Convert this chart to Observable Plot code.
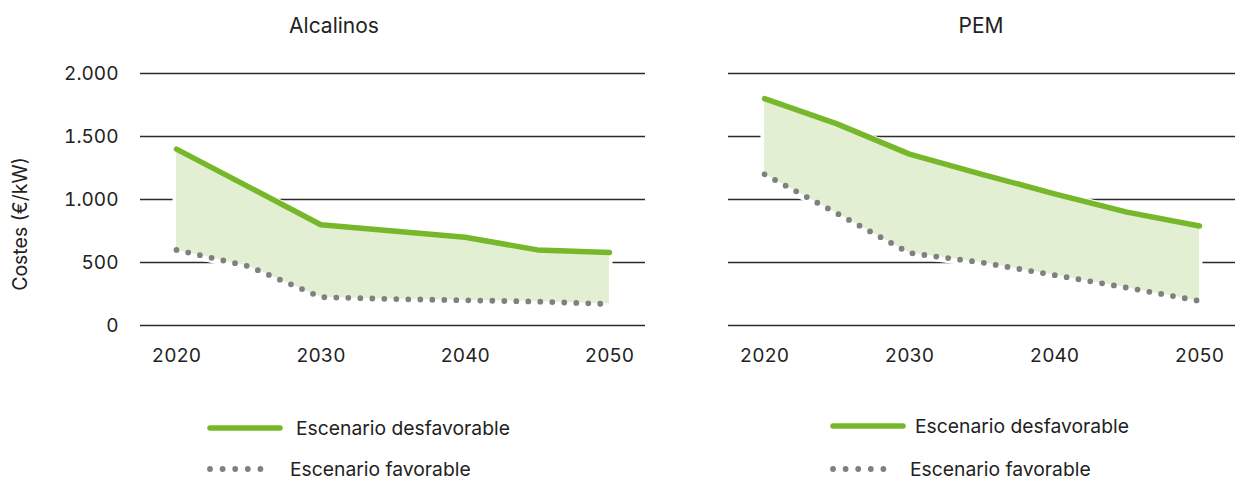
<!DOCTYPE html>
<html>
<head>
<meta charset="utf-8">
<script src="https://cdn.jsdelivr.net/npm/d3@7"></script>
<script src="https://cdn.jsdelivr.net/npm/@observablehq/plot@0.6"></script>
<style>
  html, body { margin: 0; padding: 0; background: #fff; }
  #root { position: relative; width: 1235px; height: 480px; overflow: hidden; font-family: Inter, "Noto Sans", sans-serif; color: #222; }
  .abs { position: absolute; white-space: nowrap; }
  .title { font-size: 21px; transform: translate(-50%, -50%); }
  .leg { font-size: 19.3px; transform: translateY(-50%); }
  .ylab { font-size: 19.5px; transform: translate(-50%, -50%) rotate(-90deg); }
</style>
</head>
<body>
<div id="root"></div>
<script>
// ---- data ----
const years = [2020, 2025, 2030, 2035, 2040, 2045, 2050];
const xTicks = [2020, 2030, 2040, 2050];
const yTicks = [0, 500, 1000, 1500, 2000];
const panelTitles = ["Alcalinos", "PEM"];
const seriesNames = ["Escenario desfavorable", "Escenario favorable"];
const yLabel = "Costes (€/kW)";
const alcalinosDesfavorable = [1400, 1100, 800, 750, 700, 600, 580];
const alcalinosFavorable    = [600, 470, 225, 210, 200, 190, 170];
const pemDesfavorable       = [1800, 1600, 1360, 1200, 1045, 900, 790];
const pemFavorable          = [1200, 890, 575, 500, 400, 300, 195];

const GREEN = "#76b82a";
const GREY = "#808080";
const FILL = "#e3efd2";
const FONT = 'Inter, "Noto Sans", sans-serif';

const root = document.getElementById("root");
const fmt = d => d3.format(",")(d).replace(/,/g, ".");

function panel(desf, fav, o) {
  const data = years.map((y, i) => ({year: y, desf: desf[i], fav: fav[i]}));
  const chart = Plot.plot({
    width: o.width, height: 380,
    marginLeft: o.marginLeft, marginRight: o.marginRight,
    marginTop: 73, marginBottom: 55,
    style: {fontFamily: FONT, fontSize: "19px", color: "#222", background: "transparent"},
    x: {domain: [2020, 2050], inset: 36, ticks: xTicks, tickFormat: d => String(d), tickSize: 0, tickPadding: 23, label: null},
    y: {domain: [0, 2000], ticks: yTicks, tickFormat: fmt, tickSize: 0, tickPadding: 22, label: null, axis: o.showY ? "left" : null},
    marks: [
      Plot.ruleY(yTicks, {stroke: "#2b2b2b", strokeWidth: 1.3}),
      Plot.areaY(data, {x: "year", y1: "fav", y2: "desf", fill: "white", stroke: "white", strokeWidth: 7}),
      Plot.lineY(data, {x: "year", y: "fav", stroke: "white", strokeWidth: 10}),
      Plot.areaY(data, {x: "year", y1: "fav", y2: "desf", fill: FILL}),
      Plot.lineY(data, {x: "year", y: "fav", stroke: GREY, strokeWidth: 5.8, strokeDasharray: "0,12", strokeLinecap: "round"}),
      Plot.lineY(data, {x: "year", y: "desf", stroke: GREEN, strokeWidth: 5.5, strokeLinecap: "round", strokeLinejoin: "round"})
    ]
  });
  chart.style.position = "absolute";
  chart.style.left = o.left + "px";
  chart.style.top = "0px";
  root.appendChild(chart);
}

panel(alcalinosDesfavorable, alcalinosFavorable, {left: 0, width: 660, marginLeft: 140, marginRight: 15, showY: true});
panel(pemDesfavorable, pemFavorable, {left: 700, width: 535, marginLeft: 28, marginRight: 0, showY: false});

function addText(txt, cls, x, y) {
  const d = document.createElement("div");
  d.className = "abs " + cls;
  d.textContent = txt;
  d.style.left = x + "px";
  d.style.top = y + "px";
  root.appendChild(d);
}
addText(panelTitles[0], "title", 334, 25);
addText(panelTitles[1], "title", 981, 25);
addText(yLabel, "ylab", 20, 224);

function legendSwatch(x, y, kind) {
  const ns = "http://www.w3.org/2000/svg";
  const s = document.createElementNS(ns, "svg");
  s.setAttribute("width", 90); s.setAttribute("height", 14);
  s.style.position = "absolute"; s.style.left = (x - 5) + "px"; s.style.top = (y - 7) + "px";
  const l = document.createElementNS(ns, "line");
  l.setAttribute("x1", 5); l.setAttribute("y1", 7); l.setAttribute("y2", 7);
  l.setAttribute("stroke-linecap", "round");
  if (kind === "solid") {
    l.setAttribute("x2", 75); l.setAttribute("stroke", GREEN); l.setAttribute("stroke-width", 5.5);
  } else {
    l.setAttribute("x2", 68); l.setAttribute("stroke", GREY); l.setAttribute("stroke-width", 5.8);
    l.setAttribute("stroke-dasharray", "0,12.6");
  }
  s.appendChild(l);
  root.appendChild(s);
}
legendSwatch(210, 428, "solid");
addText(seriesNames[0], "leg", 296, 428);
legendSwatch(210, 469, "dots");
addText(seriesNames[1], "leg", 290, 469);
legendSwatch(833, 426, "solid");
addText(seriesNames[0], "leg", 915, 426);
legendSwatch(833, 469, "dots");
addText(seriesNames[1], "leg", 910, 469);
</script>
</body>
</html>
